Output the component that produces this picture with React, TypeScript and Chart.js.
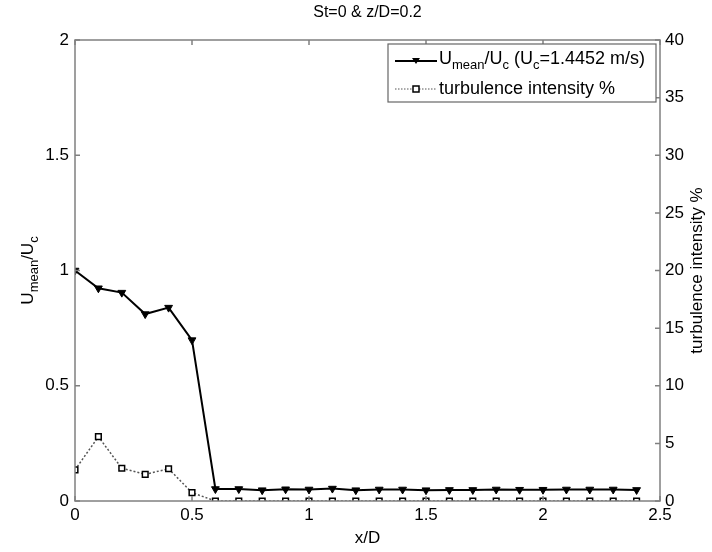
import React, { useEffect, useRef } from "react";
import { Chart, registerables } from "chart.js";
Chart.register(...registerables);

const xValues = [0, 0.1, 0.2, 0.3, 0.4, 0.5, 0.6, 0.7, 0.8, 0.9, 1.0, 1.1, 1.2, 1.3, 1.4, 1.5, 1.6, 1.7, 1.8, 1.9, 2.0, 2.1, 2.2, 2.3, 2.4];
const uMean = [1.0, 0.923, 0.904, 0.811, 0.839, 0.698, 0.052, 0.052, 0.047, 0.051, 0.05, 0.054, 0.047, 0.05, 0.05, 0.047, 0.048, 0.048, 0.05, 0.049, 0.049, 0.05, 0.05, 0.05, 0.048];
const turbulence = [2.7, 5.58, 2.84, 2.31, 2.8, 0.72, 0, 0, 0, 0, 0, 0, 0, 0, 0, 0, 0, 0, 0, 0, 0, 0, 0, 0, 0];
const xTicks = [0, 0.5, 1, 1.5, 2, 2.5];
const yTicks = [0, 0.5, 1, 1.5, 2];
const y1Ticks = [0, 5, 10, 15, 20, 25, 30, 35, 40];
const titleText = "St=0 & z/D=0.2";
const xLabel = "x/D";
const y1Label = "turbulence intensity %";
const legend2 = "turbulence intensity %";

const FONT = "Liberation Sans, Arial, sans-serif";
const AXIS = "#808080";

function drawSub(ctx: CanvasRenderingContext2D, parts: [string, boolean][], x: number, y: number, size: number, subSize: number) {
  let cx = x;
  for (const [t, sub] of parts) {
    ctx.font = `${sub ? subSize : size}px ${FONT}`;
    ctx.fillText(t, cx, sub ? y + size * 0.35 : y);
    cx += ctx.measureText(t).width;
  }
  return cx - x;
}
function measureSub(ctx: CanvasRenderingContext2D, parts: [string, boolean][], size: number, subSize: number) {
  let w = 0;
  for (const [t, sub] of parts) {
    ctx.font = `${sub ? subSize : size}px ${FONT}`;
    w += ctx.measureText(t).width;
  }
  return w;
}

const decor = {
  id: "decor",
  afterDraw(chart: any) {
    const ctx: CanvasRenderingContext2D = chart.ctx;
    const a = chart.chartArea;
    const xs = chart.scales.x, ys = chart.scales.y, y1s = chart.scales.y1;
    ctx.save();
    ctx.strokeStyle = AXIS;
    ctx.lineWidth = 1.5;
    ctx.strokeRect(a.left, a.top, a.right - a.left, a.bottom - a.top);
    ctx.beginPath();
    for (const v of xTicks) {
      const px = xs.getPixelForValue(v);
      ctx.moveTo(px, a.bottom); ctx.lineTo(px, a.bottom - 5);
      ctx.moveTo(px, a.top); ctx.lineTo(px, a.top + 5);
    }
    for (const v of yTicks) {
      const py = ys.getPixelForValue(v);
      ctx.moveTo(a.left, py); ctx.lineTo(a.left + 5, py);
    }
    for (const v of y1Ticks) {
      const py = y1s.getPixelForValue(v);
      ctx.moveTo(a.right, py); ctx.lineTo(a.right - 5, py);
    }
    ctx.stroke();

    ctx.fillStyle = "#000";
    ctx.textBaseline = "middle";
    ctx.font = `16px ${FONT}`;
    ctx.textAlign = "center";
    ctx.fillText(titleText, (a.left + a.right) / 2, 13);
    ctx.font = `17px ${FONT}`;
    ctx.fillText(xLabel, (a.left + a.right) / 2, 538);
    ctx.save();
    ctx.translate(697, (a.top + a.bottom) / 2);
    ctx.rotate(-Math.PI / 2);
    ctx.font = `17px ${FONT}`;
    ctx.fillText(y1Label, 0, 0);
    ctx.restore();
    const yParts: [string, boolean][] = [["U", false], ["mean", true], ["/U", false], ["c", true]];
    ctx.save();
    ctx.translate(28, (a.top + a.bottom) / 2);
    ctx.rotate(-Math.PI / 2);
    ctx.textAlign = "left";
    const yw = measureSub(ctx, yParts, 17, 13);
    drawSub(ctx, yParts, -yw / 2, 0, 17, 13);
    ctx.restore();

    // legend
    const lx = 388, ly = 44, lw = 268, lh = 58;
    ctx.fillStyle = "#fff";
    ctx.fillRect(lx, ly, lw, lh);
    ctx.strokeStyle = "#666";
    ctx.lineWidth = 1.2;
    ctx.strokeRect(lx, ly, lw, lh);
    const r1 = 61, r2 = 89;
    ctx.strokeStyle = "#000";
    ctx.lineWidth = 2;
    ctx.beginPath(); ctx.moveTo(395, r1); ctx.lineTo(437, r1); ctx.stroke();
    ctx.fillStyle = "#000";
    ctx.beginPath(); ctx.moveTo(412, r1 - 3); ctx.lineTo(420, r1 - 3); ctx.lineTo(416, r1 + 3); ctx.closePath(); ctx.fill();
    ctx.textAlign = "left";
    const lParts: [string, boolean][] = [["U", false], ["mean", true], ["/U", false], ["c", true], [" (U", false], ["c", true], ["=1.4452 m/s)", false]];
    drawSub(ctx, lParts, 439, r1 - 2, 18, 13);
    ctx.strokeStyle = "#555";
    ctx.lineWidth = 1;
    ctx.setLineDash([1.5, 1.5]);
    ctx.beginPath(); ctx.moveTo(395, r2); ctx.lineTo(437, r2); ctx.stroke();
    ctx.setLineDash([]);
    ctx.fillStyle = "#fff";
    ctx.strokeStyle = "#000";
    ctx.lineWidth = 1.5;
    ctx.fillRect(413, r2 - 3, 6, 6);
    ctx.strokeRect(413, r2 - 3, 6, 6);
    ctx.fillStyle = "#000";
    ctx.font = `18px ${FONT}`;
    ctx.fillText(legend2, 439, r2);
    ctx.restore();
  },
};

export default function App() {
  const ref = useRef<HTMLCanvasElement>(null);
  useEffect(() => {
    const tickFont = { family: FONT, size: 17 };
    const chart = new Chart(ref.current!, {
      type: "line",
      data: {
        datasets: [
          {
            label: "U",
            data: xValues.map((x, i) => ({ x, y: uMean[i] })),
            yAxisID: "y",
            borderColor: "#000",
            backgroundColor: "#000",
            borderWidth: 2,
            pointStyle: "triangle",
            pointRotation: 180,
            pointRadius: 4.5,
            pointBorderWidth: 1,
            tension: 0,
          },
          {
            label: "T",
            data: xValues.map((x, i) => ({ x, y: turbulence[i] })),
            yAxisID: "y1",
            borderColor: "#555",
            backgroundColor: "#fff",
            borderWidth: 1.5,
            borderDash: [2, 2],
            pointStyle: "rect",
            pointRadius: 4,
            pointBorderColor: "#000",
            pointBackgroundColor: "#fff",
            pointBorderWidth: 1.5,
            tension: 0,
          },
        ],
      },
      options: {
        animation: false,
        responsive: false,
        layout: { padding: { top: 40, left: 0, right: 0, bottom: 0 } },
        plugins: { legend: { display: false }, tooltip: { enabled: false }, title: { display: false } },
        scales: {
          x: {
            type: "linear",
            min: 0,
            max: 2.5,
            afterFit: (s: any) => { s.height = 51; },
            afterBuildTicks: (s: any) => { s.ticks = xTicks.map((v) => ({ value: v })); },
            grid: { display: false, drawTicks: false },
            border: { display: false },
            ticks: { font: tickFont, color: "#000", padding: 4, maxRotation: 0, callback: (v: any) => String(v) },
          },
          y: {
            type: "linear",
            position: "left",
            min: 0,
            max: 2,
            afterFit: (s: any) => { s.width = 75; },
            afterBuildTicks: (s: any) => { s.ticks = yTicks.map((v) => ({ value: v })); },
            grid: { display: false, drawTicks: false },
            border: { display: false },
            ticks: { font: tickFont, color: "#000", padding: 6, callback: (v: any) => String(v) },
          },
          y1: {
            type: "linear",
            position: "right",
            min: 0,
            max: 40,
            afterFit: (s: any) => { s.width = 52; },
            afterBuildTicks: (s: any) => { s.ticks = y1Ticks.map((v) => ({ value: v })); },
            grid: { display: false, drawTicks: false },
            border: { display: false },
            ticks: { font: tickFont, color: "#000", padding: 5, callback: (v: any) => String(v) },
          },
        },
      },
      plugins: [decor],
    } as any);
    return () => chart.destroy();
  }, []);
  return (
    <div style={{ position: "fixed", left: 0, top: 0, width: 712, height: 552, background: "#fff" }}>
      <canvas ref={ref} width={712} height={552} style={{ width: 712, height: 552, display: "block" }} />
    </div>
  );
}
